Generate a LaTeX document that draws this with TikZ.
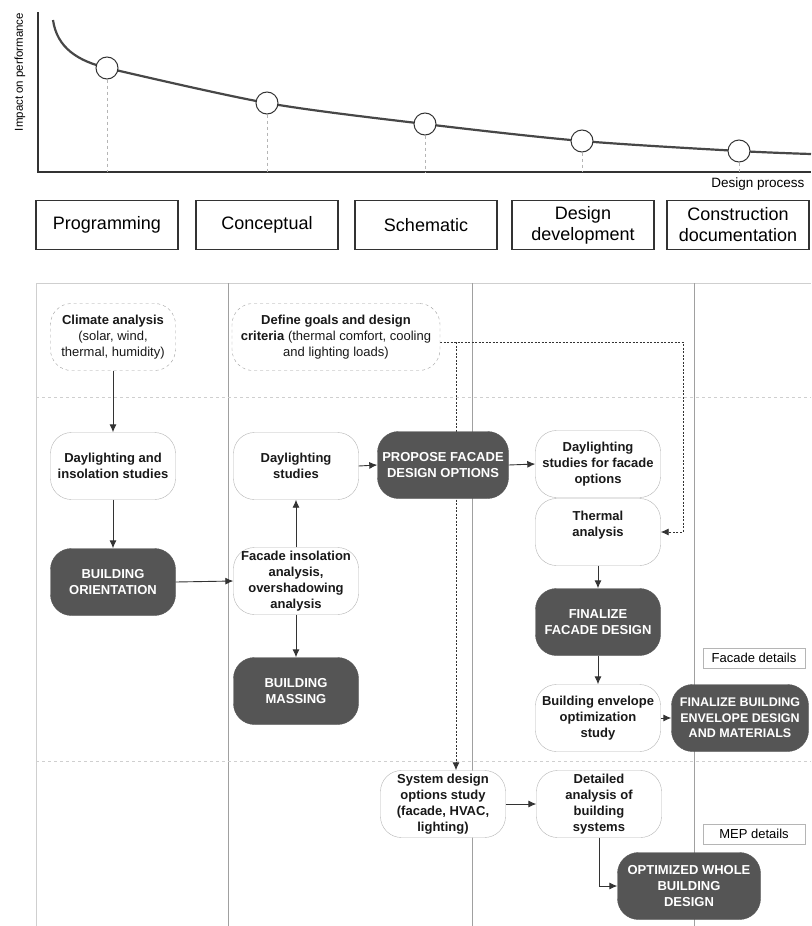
\documentclass[tikz,border=0pt]{standalone}
\usepackage{fontspec}
\setmainfont{Liberation Sans}
\usetikzlibrary{backgrounds,arrows.meta}
\definecolor{shade1}{HTML}{555555}
\definecolor{shade2}{HTML}{B5B5B5}
\definecolor{shade3}{HTML}{A0A0A0}
\definecolor{shade4}{HTML}{333333}
\definecolor{shade5}{HTML}{CFCFCF}
\tikzstyle{flow_box}=[rectangle,
                      minimum height=67pt,
                      minimum width=125pt,
                      rounded corners=21pt,
                      draw=shade2,
                      fill=white,
                      text=black!90,
                      align=center,
                      inner sep=2pt,
                      font=\bfseries\fontsize{13}{16}\selectfont]
\tikzstyle{key_box}=[flow_box,
                     draw=shade1,
                     fill=shade1,
                     text=white]
\tikzstyle{input_box}=[flow_box,
                       dashed,
                       draw=shade3,
                       font=\fontsize{13}{16}\selectfont]
\tikzstyle{phase_box}=[rectangle,
                       minimum height=49pt,
                       minimum width=142pt,
                       draw=shade4,
                       line width=1.2pt,
                       align=center,
                       font=\fontsize{18}{21}\selectfont]
\tikzstyle{detail_tag}=[rectangle,
                        minimum height=20pt,
                        minimum width=102pt,
                        draw=shade2,
                        font=\fontsize{13}{16}\selectfont]
\tikzstyle{impact_point}=[circle,
                          minimum size=22pt,
                          inner sep=0pt,
                          draw=shade4,
                          fill=white,
                          line width=1pt]
\tikzstyle{flow_arrow}=[-{Latex[length=8pt, width=7pt]}, draw=shade4, line width=0.9pt]
\tikzstyle{feedback_line}=[-{Latex[length=8pt, width=7pt]}, draw=shade4, line width=0.9pt, dash pattern=on 2pt off 1.5pt]

\begin{document}
\begin{tikzpicture}[x=1pt, y=-1pt]
    \useasboundingbox (0, 0) rectangle (811, 926);

    \coordinate (O) at (38, 172);
    \draw[shade4, line width=1.5pt] (38, 12) -- (O) -- (811, 172);
    \node at (20, 72) (YL) [rotate=90, font=\fontsize{11.5}{14}\selectfont] {Impact on performance};
    \node at (808, 184) (XL) [anchor=east, font=\fontsize{13.5}{16}\selectfont] {Design process};

    \draw[shade4!90, line width=2.2pt] (53, 20) .. controls (57, 48) and (78, 61) .. (107, 68);
    \draw[shade4!90, line width=2.2pt] plot[smooth, tension=0.5] coordinates {(107, 68) (267, 103) (425, 124) (582, 141) (739, 151) (811, 154)};

    \foreach \la/\lb [count=\lc] in {107/68, 267/103, 425/124, 582/141, 739/151} {
        \node at (\la, \lb) (P\lc) [impact_point] {};
        \draw[shade2, dashed] (P\lc.south) -- (P\lc.south |- O);
    }

    \foreach \la/\lb [count=\lc] in {107/Programming, 267/Conceptual, 426/Schematic, 583/{Design\\development}, 738/{Construction\\documentation}} {
        \node at (\la, 225) (S\lc) [phase_box] {\lb};
    }

    \node at (113, 337) (CA) [input_box] {\textbf{Climate analysis}\\(solar, wind,\\thermal, humidity)};
    \node at (336, 337) (DG) [input_box, minimum width=208pt] {\textbf{Define goals and design}\\\textbf{criteria} (thermal comfort, cooling\\and lighting loads)};

    \node at (113, 466) (DI) [flow_box] {Daylighting and\\insolation studies};
    \node at (296, 466) (DS) [flow_box] {Daylighting\\studies};
    \node at (443, 465) (PF) [key_box, minimum width=131pt] {PROPOSE FACADE\\DESIGN OPTIONS};
    \node at (598, 464) (DF) [flow_box] {Daylighting\\studies for facade\\options};
    \node at (598, 532) (TA) [flow_box] {Thermal\\analysis\\\mbox{}};
    \node at (598, 622) (FF) [key_box] {FINALIZE\\FACADE DESIGN};

    \node at (113, 582) (BO) [key_box] {BUILDING\\ORIENTATION};
    \node at (296, 581) (FI) [flow_box] {Facade insolation\\analysis,\\overshadowing\\analysis};
    \node at (296, 691) (BM) [key_box] {BUILDING\\MASSING};

    \node at (754, 658) (FD) [detail_tag] {Facade details};
    \node at (598, 718) (BE) [flow_box] {Building envelope\\optimization\\study};
    \node at (740, 718) (FE) [key_box, minimum width=137pt, inner sep=1pt, font=\bfseries\fontsize{12.5}{15.5}\selectfont] {FINALIZE BUILDING\\ENVELOPE DESIGN\\AND MATERIALS};

    \node at (443, 804) (SD) [flow_box] {System design\\options study\\(facade, HVAC,\\lighting)};
    \node at (599, 804) (DA) [flow_box] {Detailed\\analysis of\\building\\systems};
    \node at (754, 834) (MD) [detail_tag] {MEP details};
    \node at (689, 886) (OW) [key_box, minimum width=143pt] {OPTIMIZED WHOLE\\BUILDING\\DESIGN};

    \coordinate (GT) at (683, 342);
    \coordinate (GD) at (456, 342);

    \begin{scope}[on background layer]
        \draw[shade5, line width=1pt] (36, 283) -- (811, 283);
        \draw[shade5, line width=1pt] (36, 283) -- (36, 926);
        \foreach \la in {228, 472, 694} {
            \draw[shade3, line width=1pt] (\la, 283) -- (\la, 926);
        }
        \foreach \lb in {397, 761} {
            \draw[shade5, dashed, line width=0.8pt] (36, \lb) -- (811, \lb);
        }
        \draw[feedback_line] (DG.east |- GT) -- (GT) |- (TA.east);
        \draw[feedback_line] (GD) -- (GD |- SD.north);
    \end{scope}

    \draw[flow_arrow] (CA.south) -- (DI.north);
    \draw[flow_arrow] (DI.south) -- (BO.north);
    \draw[flow_arrow] (BO.east) -- (FI.west);
    \draw[flow_arrow] (FI.north) -- (DS.south);
    \draw[flow_arrow] (FI.south) -- (BM.north);
    \draw[flow_arrow] (DS.east) -- (PF.west);
    \draw[flow_arrow] (PF.east) -- (DF.west);
    \draw[flow_arrow] (TA.south) -- (FF.north);
    \draw[flow_arrow] (FF.south) -- (BE.north);
    \draw[flow_arrow] (BE.east) -- (FE.west);
    \draw[flow_arrow] (SD.east) -- (DA.west);
    \draw[flow_arrow] (DA.south) |- (OW.west);
\end{tikzpicture}
\end{document}
